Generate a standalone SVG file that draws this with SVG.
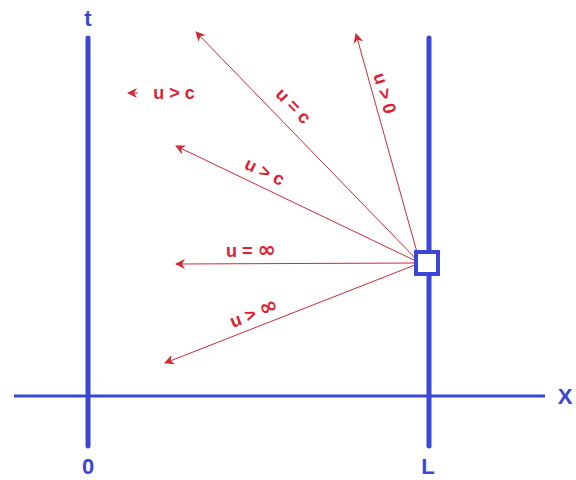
<svg xmlns="http://www.w3.org/2000/svg" width="576" height="480" viewBox="0 0 576 480">
<style>
.ax{stroke:#3b47d4;stroke-width:5;stroke-linecap:round;fill:none}
.xa{stroke:#3b47d4;stroke-width:3;fill:none}
.ray{stroke:#d02a35;stroke-width:1;fill:none;marker-end:url(#ah)}
.bl{font-family:"Liberation Sans",Arial,sans-serif;font-weight:bold;font-size:22px;fill:#3b47d4;text-anchor:middle}
.rd{font-family:"Liberation Sans",Arial,sans-serif;font-weight:bold;font-size:18px;fill:#e0202f;text-anchor:middle}
.inf{font-family:"DejaVu Sans",sans-serif;font-size:22px}
</style>
<defs>
<marker id="ah" viewBox="0 0 10 10" refX="9" refY="5" markerWidth="10" markerHeight="10" markerUnits="userSpaceOnUse" orient="auto">
<path d="M0,0 L10,5 L0,10 L3,5 Z" fill="#d02a35"/>
</marker>
</defs>
<g id="axes">
<line class="ax" x1="88" y1="38" x2="88" y2="446"/>
<line class="ax" x1="429" y1="38" x2="429" y2="446"/>
<line class="xa" x1="14" y1="396" x2="545" y2="396"/>
<text class="bl" x="88" y="26">t</text>
<text class="bl" x="565" y="404">X</text>
<text class="bl" x="88" y="474">0</text>
<text class="bl" x="428" y="474">L</text>
</g>
<g id="connectors">
<line class="ray" x1="420" y1="263" x2="196" y2="32"/>
<line class="ray" x1="420" y1="263" x2="356" y2="34"/>
<line class="ray" x1="420" y1="263" x2="176" y2="146"/>
<line class="ray" x1="420" y1="263" x2="176" y2="264"/>
<line class="ray" x1="420" y1="263" x2="165" y2="363"/>
<line class="ray" x1="138" y1="93" x2="128" y2="93"/>
</g>
<g id="labels">
<text class="rd" transform="translate(289,110) rotate(46)">u = c</text>
<text class="rd" transform="translate(262,177) rotate(26)">u &gt; c</text>
<text class="rd" transform="translate(379,95) rotate(74)">u &gt; 0</text>
<text class="rd" x="251" y="257">u = <tspan class="inf">∞</tspan></text>
<text class="rd" transform="translate(256,319) rotate(-21)">u &gt; <tspan class="inf">∞</tspan></text>
<text class="rd" x="174" y="99">u &gt; c</text>
</g>
<g id="node">
<rect x="416" y="252" width="22" height="22" fill="#fff" stroke="#3b47d4" stroke-width="4"/>
</g>
</svg>
